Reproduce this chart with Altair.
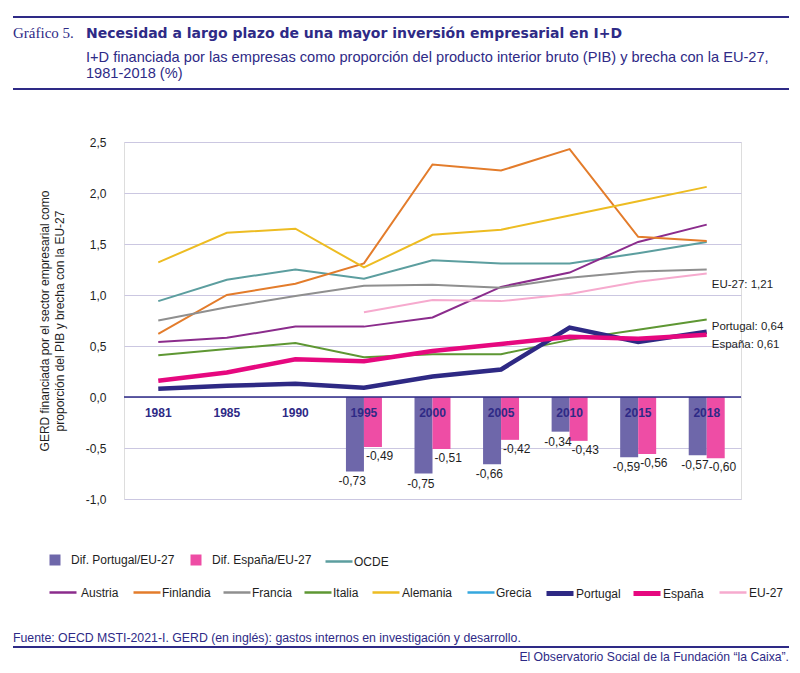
import altair as alt
import pandas as pd

# ---------------- data ----------------
years = ["1981", "1985", "1990", "1995", "2000", "2005", "2010", "2015", "2018"]

austria = [0.54, 0.58, 0.69, 0.69, 0.78, 1.08, 1.22, 1.52, 1.69]
finlandia = [0.62, 1.00, 1.11, 1.31, 2.28, 2.22, 2.43, 1.57, 1.53]
francia = [0.75, 0.88, 0.99, 1.09, 1.10, 1.07, 1.17, 1.23, 1.25]
italia = [0.41, 0.47, 0.53, 0.39, 0.42, 0.42, 0.56, 0.66, 0.76]
alemania = [1.32, 1.61, 1.65, 1.27, 1.59, 1.64, 1.78, 1.92, 2.06]
grecia = [None, None, None, None, None, None, None, None, None]
portugal = [0.08, 0.11, 0.13, 0.09, 0.20, 0.27, 0.68, 0.54, 0.64]
espana = [0.16, 0.24, 0.37, 0.35, 0.45, 0.52, 0.59, 0.57, 0.61]
eu27 = [None, None, None, 0.83, 0.95, 0.94, 1.01, 1.13, 1.21]
ocde = [0.94, 1.15, 1.25, 1.16, 1.34, 1.31, 1.31, 1.41, 1.52]

dif_portugal = [None, None, None, -0.73, -0.75, -0.66, -0.34, -0.59, -0.57]
dif_espana = [None, None, None, -0.49, -0.51, -0.42, -0.43, -0.56, -0.60]

series_names = ["OCDE", "Austria", "Finlandia", "Francia", "Italia", "Alemania",
                "Grecia", "EU-27", "Portugal", "España"]
series_values = [ocde, austria, finlandia, francia, italia, alemania,
                 grecia, eu27, portugal, espana]
series_colors = ["#5C9E9F", "#8B2C8C", "#E37C2B", "#8F8F8F", "#5E9733", "#EDBC22",
                 "#35A7DE", "#F6AACE", "#2E2984", "#E6087F"]
series_widths = [2, 2, 2, 2, 2, 2, 2, 2, 4.5, 4.5]

bar_names = ["Dif. Portugal/EU-27", "Dif. España/EU-27"]
bar_values = [dif_portugal, dif_espana]
bar_colors = ["#6E67AA", "#EE4DA5"]

y_ticks = [-1.0, -0.5, 0.0, 0.5, 1.0, 1.5, 2.0, 2.5]

title_main = "Necesidad a largo plazo de una mayor inversión empresarial en I+D"
title_num = "Gráfico 5."
subtitle_1 = "I+D financiada por las empresas como proporción del producto interior bruto (PIB) y brecha con la EU-27,"
subtitle_2 = "1981-2018 (%)"
y_title = ["GERD financiada por el sector empresarial como",
           "proporción del PIB y brecha con la EU-27"]
source_text = "Fuente: OECD MSTI-2021-I. GERD (en inglés): gastos internos en investigación y desarrollo."
credit_text = "El Observatorio Social de la Fundación “la Caixa”."

# legend layout (pixel offsets from the plot's top-left corner)
legend_pos = {
    "OCDE": (200, 404.5, 0),
    "Austria": (-76, 435.5, 3), "Finlandia": (8, 435.5, 0), "Francia": (98, 435.5, 0),
    "Italia": (179, 435.5, 0), "Alemania": (247, 435.5, 1), "Grecia": (342, 435.5, 0),
    "Portugal": (420, 435.5, 0), "España": (507, 435.5, 0), "EU-27": (594, 435.5, 1),
}

# ---------------- tables ----------------
def fmt(v):
    return f"{v:.2f}".replace(".", ",")

def series_table(name, vals):
    rows = [{"anio": yr, "serie": name, "valor": v}
            for yr, v in zip(years, vals) if v is not None]
    return pd.DataFrame(rows, columns=["anio", "serie", "valor"])

bar_rows = []
for name, vals in zip(bar_names, bar_values):
    for yr, v in zip(years, vals):
        if v is not None:
            bar_rows.append({"anio": yr, "serie": name, "valor": v, "txt": fmt(v)})
bars_df = pd.DataFrame(bar_rows)

years_df = pd.DataFrame({"anio": years})

end_eu = pd.DataFrame({"anio": [years[-1]], "valor": [eu27[-1]],
                       "txt": [f"EU-27: {fmt(eu27[-1])}"]})
end_pt = pd.DataFrame({"anio": [years[-1]], "valor": [portugal[-1]],
                       "txt": [f"Portugal: {fmt(portugal[-1])}"]})
end_es = pd.DataFrame({"anio": [years[-1]], "valor": [espana[-1]],
                       "txt": [f"España: {fmt(espana[-1])}"]})

one = pd.DataFrame({"k": [0]})

# ---------------- encodings ----------------
NAVY = "#2E2A86"
TXT = "#1E1E1E"
FONT = "Liberation Sans"

xscale = alt.Scale(domain=years, paddingInner=0.475, paddingOuter=0.2375)
X = alt.X("anio:N", sort=years, scale=xscale, axis=None)

yscale = alt.Scale(domain=[-1, 2.5], nice=False, zero=False)
yaxis = alt.Axis(
    values=y_ticks,
    labelExpr="replace(replace(format(datum.value, '.1f'), '.', ','), '\u2212', '-')",
    grid=True, gridColor="#CBC7E1", gridWidth=1,
    domain=False, ticks=False,
    labelPadding=18, labelFontSize=12, labelColor=TXT, labelFont=FONT,
    title=y_title, titleFontSize=12, titleFontWeight="normal",
    titleColor=TXT, titleFont=FONT, titlePadding=19, titleLineHeight=15,
)
Y = alt.Y("valor:Q", scale=yscale, axis=yaxis)

# bars
bars = alt.Chart(bars_df).mark_bar().encode(
    x=X,
    xOffset=alt.XOffset("serie:N", sort=bar_names, scale=alt.Scale(domain=bar_names)),
    y=Y,
    fill=alt.Fill("serie:N", scale=alt.Scale(domain=bar_names, range=bar_colors),
                  legend=alt.Legend(title=None, orient="none", legendX=-75, legendY=412,
                                    direction="horizontal", symbolType="square",
                                    symbolSize=121, symbolStrokeWidth=0,
                                    labelFontSize=12, labelFont=FONT, labelColor=TXT,
                                    labelOffset=10, columnPadding=15, padding=0)),
)

zero_rule = alt.Chart(one).mark_rule(color=NAVY, strokeWidth=1.5).encode(y=alt.datum(0))

line_layers = []
for name, vals, col, w in zip(series_names, series_values, series_colors, series_widths):
    lx, ly, loff = legend_pos[name]
    leg = alt.Legend(title=None, orient="none", legendX=lx, legendY=ly,
                     direction="horizontal", symbolType="stroke",
                     symbolSize=729, symbolStrokeWidth=w + 0.5,
                     labelFontSize=12, labelFont=FONT, labelColor=TXT,
                     labelOffset=loff, padding=0)
    line_layers.append(
        alt.Chart(series_table(name, vals)).mark_line(strokeWidth=w).encode(
            x=X, y=Y,
            stroke=alt.Stroke("serie:N", scale=alt.Scale(domain=[name], range=[col]),
                              legend=leg),
        )
    )

year_text = alt.Chart(years_df).mark_text(
    fontWeight="bold", fontSize=12, color=NAVY, baseline="middle", dy=16, font=FONT
).encode(x=X, y=alt.datum(0), text="anio:N")

pt_labels = alt.Chart(bars_df[bars_df.serie == bar_names[0]]).mark_text(
    align="right", baseline="top", dx=2, dy=5, fontSize=12, color=TXT, font=FONT
).encode(x=X, y=Y, text="txt:N")

es_labels = alt.Chart(bars_df[bars_df.serie == bar_names[1]]).mark_text(
    align="left", baseline="top", dx=2, dy=4, fontSize=12, color=TXT, font=FONT
).encode(x=X, y=Y, text="txt:N")

def end_label(df, dy):
    return alt.Chart(df).mark_text(
        align="left", baseline="middle", dx=5, dy=dy, fontSize=11.5, color=TXT, font=FONT
    ).encode(x=X, y=Y, text="txt:N")

eu_lab = end_label(end_eu, 11)
pt_lab = end_label(end_pt, -5)
es_lab = end_label(end_es, 10)

# header / footer decorations
def rule_at(y, w=2.2):
    return alt.Chart(one).mark_rule(color=NAVY, strokeWidth=w).encode(
        x=alt.value(-111), x2=alt.value(665), y=alt.value(y))

def text_at(t, x, y, **kw):
    return alt.Chart(one).mark_text(text=t, baseline="alphabetic", **kw).encode(
        x=alt.value(x), y=alt.value(y))

header = [
    rule_at(-125),
    text_at(title_num, -111, -104, align="left", font="Liberation Serif", fontSize=15, color=NAVY),
    text_at(title_main, -38, -104, align="left", font="DejaVu Sans", fontSize=14,
            fontWeight="bold", color=NAVY),
    text_at(subtitle_1, -38, -80, align="left", font=FONT, fontSize=14.6, color=NAVY),
    text_at(subtitle_2, -38, -64, align="left", font=FONT, fontSize=14.6, color=NAVY),
    rule_at(-53),
    text_at(source_text, -111, 500, align="left", font=FONT, fontSize=12.3, color=NAVY),
    rule_at(505),
    text_at(credit_text, 665, 519, align="right", font=FONT, fontSize=12.2, color=NAVY),
]

chart = alt.layer(
    bars, zero_rule, *line_layers, year_text,
    pt_labels, es_labels, eu_lab, pt_lab, es_lab, *header
).resolve_scale(
    stroke="independent"
).properties(
    width=617, height=357,
    padding={"left": 116, "top": 134, "right": 51, "bottom": 165},
    autosize=alt.AutoSizeParams(type="none"),
).configure_view(stroke=None).configure(font=FONT)

chart.save("out.html", embed_options={"renderer": "svg", "actions": False})
